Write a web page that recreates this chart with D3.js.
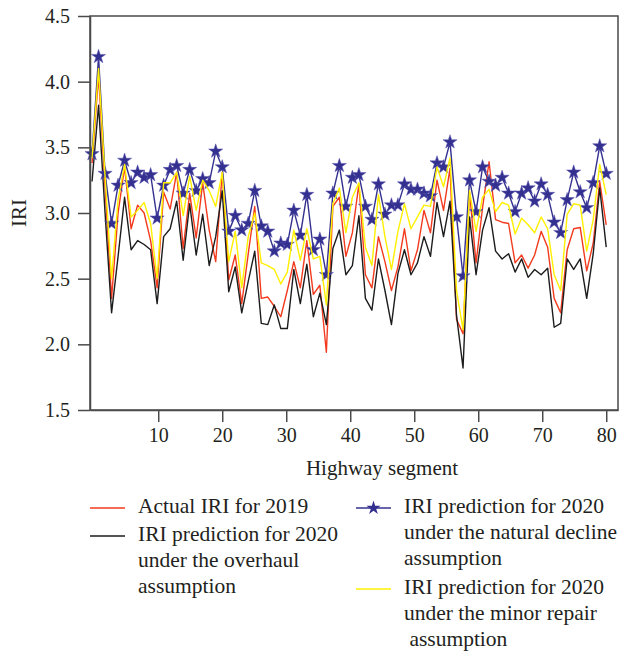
<!DOCTYPE html>
<html>
<head>
<meta charset="utf-8">
<script src="https://cdn.jsdelivr.net/npm/d3@7"></script>
<style>
  html, body { margin: 0; padding: 0; background: #fff; }
  svg { display: block; }
  text { font-family: "Liberation Serif", "Times New Roman", serif; fill: #231f20; }
</style>
</head>
<body>
<svg id="chart" width="620" height="652"></svg>
<script>
// Highway segments 1..80
const segments = d3.range(1, 81);

// Actual IRI for 2019
const actual2019 = [
  3.38, 4.05, 3.20, 2.35, 3.00, 3.35, 2.88, 3.06, 3.00, 2.79,
  2.43, 3.16, 3.03, 3.31, 2.73, 3.15, 2.81, 3.23, 2.87, 2.63,
  3.31, 2.49, 2.68, 2.31, 2.69, 3.05, 2.35, 2.36, 2.29, 2.21,
  2.41, 2.63, 2.43, 2.79, 2.38, 2.45, 1.94, 3.05, 3.12, 2.67,
  2.85, 3.22, 2.53, 2.43, 2.82, 2.63, 2.41, 2.59, 2.88, 2.56,
  2.72, 3.02, 2.85, 3.25, 3.02, 3.34, 2.19, 2.08, 3.16, 2.62,
  3.04, 3.39, 2.95, 2.93, 2.92, 2.62, 2.68, 2.58, 2.68, 2.86,
  2.74, 2.35, 2.24, 2.72, 2.88, 2.89, 2.56, 2.77, 3.24, 2.91
];

// 2020 prediction, overhaul assumption
const overhaul2020 = [
  3.24, 3.82, 3.00, 2.24, 2.67, 3.12, 2.72, 2.79, 2.76, 2.72,
  2.31, 2.82, 2.88, 3.09, 2.64, 3.07, 2.68, 2.99, 2.60, 2.82,
  3.17, 2.40, 2.59, 2.24, 2.48, 2.71, 2.16, 2.15, 2.30, 2.12,
  2.12, 2.57, 2.31, 2.61, 2.21, 2.39, 2.15, 2.73, 2.87, 2.53,
  2.60, 2.98, 2.35, 2.26, 2.65, 2.41, 2.15, 2.54, 2.72, 2.53,
  2.62, 2.82, 2.67, 3.08, 2.82, 3.09, 2.22, 1.82, 2.97, 2.53,
  2.87, 3.04, 2.71, 2.65, 2.69, 2.55, 2.65, 2.51, 2.57, 2.53,
  2.58, 2.13, 2.16, 2.65, 2.57, 2.65, 2.35, 2.69, 3.19, 2.74
];

// 2020 prediction, natural decline assumption
const natural2020 = [
  3.45, 4.19, 3.30, 2.92, 3.21, 3.40, 3.23, 3.31, 3.27, 3.29,
  2.96, 3.21, 3.33, 3.36, 3.15, 3.33, 3.17, 3.26, 3.23, 3.47,
  3.35, 2.86, 2.98, 2.87, 2.92, 3.17, 2.90, 2.86, 2.71, 2.77,
  2.76, 3.02, 2.83, 3.14, 2.72, 2.80, 2.53, 3.15, 3.36, 3.05,
  3.27, 3.29, 3.05, 2.95, 3.22, 2.99, 3.06, 3.06, 3.22, 3.18,
  3.18, 3.15, 3.13, 3.38, 3.35, 3.54, 2.97, 2.52, 3.25, 3.01,
  3.35, 3.24, 3.21, 3.27, 3.15, 3.01, 3.15, 3.19, 3.09, 3.22,
  3.14, 2.93, 2.85, 3.10, 3.31, 3.16, 3.04, 3.23, 3.51, 3.30
];

// 2020 prediction, minor repair assumption
const minor2020 = [
  3.42, 4.10, 3.28, 2.50, 3.10, 3.37, 2.97, 3.02, 3.08, 2.92,
  2.50, 3.23, 3.23, 3.31, 2.98, 3.28, 3.02, 3.25, 3.17, 3.05,
  3.31, 2.63, 2.86, 2.43, 2.82, 3.00, 2.62, 2.60, 2.57, 2.46,
  2.55, 2.87, 2.64, 2.88, 2.65, 2.67, 2.30, 3.07, 3.19, 2.85,
  3.12, 3.23, 2.74, 2.60, 3.14, 2.82, 2.57, 2.86, 3.07, 2.88,
  2.97, 3.06, 3.05, 3.35, 3.20, 3.42, 2.41, 2.11, 3.17, 2.86,
  3.12, 3.18, 3.01, 3.08, 3.06, 2.84, 2.96, 2.91, 2.85, 2.97,
  2.88, 2.53, 2.41, 2.99, 3.07, 3.06, 2.71, 2.95, 3.37, 3.14
];

const xTicks = [10, 20, 30, 40, 50, 60, 70, 80];
const yTicks = [1.5, 2.0, 2.5, 3.0, 3.5, 4.0, 4.5];

const series = [
  { name: "actual", values: actual2019, color: "#f23b1e", star: false },
  { name: "overhaul", values: overhaul2020, color: "#1c1c1c", star: false },
  { name: "natural", values: natural2020, color: "#34308f", star: true },
  { name: "minor", values: minor2020, color: "#fff000", star: false }
];

const svg = d3.select("#chart");
const plot = { left: 90, right: 618, top: 16, bottom: 410 };

// axis scale for the segment ruler
const x = d3.scaleLinear().domain([-0.66, 81.84]).range([plot.left, plot.right]);
// segment positions: first segment sits just inside the frame, last one on the 80 tick
const xSeg = d3.scaleLinear().domain([1, 80]).range([x(-0.34), x(80)]);
const y = d3.scaleLinear().domain([1.5, 4.5]).range([plot.bottom, plot.top]);

const axisColor = "#4a4a4a";
const fontFamily = '"Liberation Serif", "Times New Roman", serif';

// data lines
const line = d3.line().x((d, i) => xSeg(segments[i])).y(d => y(d));
const starPath = d3.symbol().type(d3.symbolStar).size(62);

const gData = svg.append("g");
series.forEach(s => {
  gData.append("path")
    .datum(s.values)
    .attr("fill", "none")
    .attr("stroke", s.color)
    .attr("stroke-width", 1.4)
    .attr("stroke-linejoin", "round")
    .attr("d", line);
  if (s.star) {
    gData.append("g").selectAll("path")
      .data(s.values)
      .join("path")
      .attr("d", starPath)
      .attr("transform", (d, i) => `translate(${xSeg(segments[i])},${y(d)})`)
      .attr("fill", s.color)
      .attr("stroke", "#5a56b0")
      .attr("stroke-width", 0.5);
  }
});

// frame
svg.append("rect")
  .attr("x", plot.left).attr("y", plot.top)
  .attr("width", plot.right - plot.left).attr("height", plot.bottom - plot.top)
  .attr("fill", "none").attr("stroke", axisColor).attr("stroke-width", 1.5);

// axes
const xAxis = svg.append("g")
  .attr("transform", `translate(0,${plot.bottom})`)
  .call(d3.axisBottom(x).tickValues(xTicks).tickSize(12).tickSizeOuter(0).tickPadding(6));
const yAxis = svg.append("g")
  .attr("transform", `translate(${plot.left},0)`)
  .call(d3.axisLeft(y).tickValues(yTicks).tickFormat(d3.format(".1f")).tickSize(12).tickSizeOuter(0).tickPadding(8));

[xAxis, yAxis].forEach(g => {
  g.select(".domain").attr("stroke", axisColor).attr("stroke-width", 1.5);
  g.selectAll(".tick line").attr("stroke", axisColor).attr("stroke-width", 1.5);
  g.selectAll(".tick text")
    .attr("fill", "#231f20")
    .style("font-family", fontFamily)
    .style("font-size", "20px");
});

// axis titles
svg.append("text")
  .attr("x", 382).attr("y", 475)
  .attr("text-anchor", "middle")
  .style("font-size", "21px")
  .text("Highway segment");

svg.append("text")
  .attr("transform", "translate(26,213) rotate(-90)")
  .attr("text-anchor", "middle")
  .style("font-size", "21px")
  .text("IRI");

// legend
const legend = svg.append("g").style("font-size", "21.5px");
const legendItems = [
  { s: series[0], sx: 90, tx: 138, lines: ["Actual IRI for 2019"], y0: 513 },
  { s: series[1], sx: 90, tx: 138, lines: ["IRI prediction for 2020", "under the overhaul", "assumption"], y0: 541 },
  { s: series[2], sx: 356, tx: 404, lines: ["IRI prediction for 2020", "under the natural decline", "assumption"], y0: 513 },
  { s: series[3], sx: 356, tx: 404, lines: ["IRI prediction for 2020", "under the minor repair", "\u00a0assumption"], y0: 594 }
];
const lineGap = 26;
legendItems.forEach(it => {
  const cy = it.y0 - 5;
  legend.append("line")
    .attr("x1", it.sx).attr("x2", it.sx + 35)
    .attr("y1", cy).attr("y2", cy)
    .attr("stroke", it.s.color).attr("stroke-width", 1.6);
  if (it.s.star) {
    legend.append("path")
      .attr("d", starPath)
      .attr("transform", `translate(${it.sx + 17.5},${cy})`)
      .attr("fill", it.s.color);
  }
  it.lines.forEach((t, k) => {
    legend.append("text")
      .attr("x", it.tx)
      .attr("y", it.y0 + k * lineGap)
      .text(t);
  });
});
</script>
</body>
</html>
